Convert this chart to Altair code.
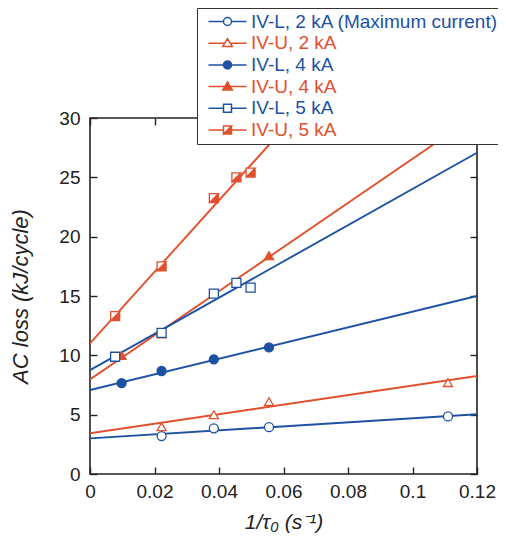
import altair as alt
import pandas as pd

BLUE = "#1d52a3"
RED = "#e0502d"

SERIES = ["IV-L, 2 kA (Maximum current)", "IV-U, 2 kA", "IV-L, 4 kA",
          "IV-U, 4 kA", "IV-L, 5 kA", "IV-U, 5 kA"]
STROKES = [BLUE, RED, BLUE, RED, BLUE, RED]
FILLS = ["#ffffff", "#ffffff", BLUE, RED, "#ffffff", RED]

HALF_SQ = "M-1,-1L1,-1L1,1L-1,1ZM-1,-1L-1,1L1,-1Z"
MARKERS = ["circle", "triangle-up", "circle", "triangle-up", "square", HALF_SQ]

LINE = "M-4.75,0L-1,0M1,0L4.75,0"
LINE_T = "M-4.75,0L-0.69,0M0.69,0L4.75,0"
CIRC = "M1,0A1,1,0,1,1,-1,0A1,1,0,1,1,1,0Z"
TRI = "M0,-1.15L1.2,0.85L-1.2,0.85Z"
SQ = "M-1,-1L1,-1L1,1L-1,1Z"
HALF = "M-1,-1L-1,1L1,-1Z"
LEGEND_SYMBOLS = [LINE + CIRC, LINE_T + TRI, LINE + CIRC, LINE_T + TRI,
                  LINE + SQ, LINE + SQ + HALF]

# measured points (1/tau0, AC loss)
PX = [
    [0.0222, 0.0384, 0.0555, 0.111],
    [0.0222, 0.0384, 0.0555, 0.111],
    [0.0098, 0.0222, 0.0384, 0.0555],
    [0.0098, 0.0222, 0.0555],
    [0.0078, 0.0222, 0.0384, 0.0454, 0.0498],
    [0.0078, 0.0222, 0.0384, 0.0454, 0.0498],
]
PY = [
    [3.2, 3.85, 3.95, 4.85],
    [3.98, 5.0, 6.1, 7.7],
    [7.65, 8.68, 9.66, 10.67],
    [10.0, 11.8, 18.4],
    [9.88, 11.9, 15.2, 16.1, 15.7],
    [13.3, 17.5, 23.25, 25.0, 25.4],
]
# fitted lines (start / end)
LX0 = [0, 0, 0, 0, 0, 0]
LY0 = [3.0, 3.43, 7.08, 7.97, 8.76, 11.0]
LX1 = [0.12, 0.12, 0.12, 0.1185, 0.12, 0.063]
LY1 = [5.03, 8.26, 15.0, 30.0, 27.07, 30.0]

X_TICKS = [0, 0.02, 0.04, 0.06, 0.08, 0.1, 0.12]
Y_TICKS = [0, 5, 10, 15, 20, 25, 30]

rows = []
for s, xs, ys in zip(SERIES, PX, PY):
    for x, y in zip(xs, ys):
        rows.append({"series": s, "x": x, "y": y})
pts = pd.DataFrame(rows)

lrows = []
for s, x0, y0, x1, y1 in zip(SERIES, LX0, LY0, LX1, LY1):
    lrows.append({"series": s, "x": x0, "y": y0})
    lrows.append({"series": s, "x": x1, "y": y1})
lines = pd.DataFrame(lrows)

W, H = 387, 356
FONT = "Liberation Sans"
INK = "#222222"

xs = alt.Scale(domain=[0, 0.12], nice=False, zero=False)
ys = alt.Scale(domain=[0, 30], nice=False, zero=False)

common = dict(grid=False, domain=False, labelFlush=False, labelOverlap=False,
              labelFont=FONT, labelColor=INK, tickColor=INK, tickWidth=1.4)

ax_x_main = alt.Axis(orient="bottom", values=X_TICKS, format=".2~f", ticks=False,
                     labelFontSize=19, labelPadding=8,
                     title="1/τ₀ (s⁻¹)", titleFont=FONT, titleFontSize=21,
                     titleFontStyle="italic", titleFontWeight="normal",
                     titleColor=INK, titlePadding=10, **common)
ax_y_main = alt.Axis(orient="left", values=Y_TICKS, ticks=False,
                     labelFontSize=19, labelPadding=10,
                     title="AC loss (kJ/cycle)", titleFont=FONT, titleFontSize=22,
                     titleFontStyle="italic", titleFontWeight="normal",
                     titleColor=INK, titlePadding=26, **common)
ax_x_in_bottom = alt.Axis(orient="top", offset=-H, values=X_TICKS, labels=False,
                          ticks=True, tickSize=7, title=None, **common)
ax_y_in_left = alt.Axis(orient="right", offset=-W, values=Y_TICKS, labels=False,
                        ticks=True, tickSize=7, title=None, **common)
ax_x_in_top = alt.Axis(orient="bottom", offset=-H, values=X_TICKS, labels=False,
                       ticks=True, tickSize=7, title=None, **common)
ax_y_in_right = alt.Axis(orient="left", offset=-W, values=Y_TICKS, labels=False,
                         ticks=True, tickSize=7, title=None, **common)

line_layer = alt.Chart(lines).mark_line(clip=True, strokeWidth=1.9).encode(
    x=alt.X("x:Q", scale=xs, axis=ax_x_main),
    y=alt.Y("y:Q", scale=ys, axis=ax_y_main),
    stroke=alt.Stroke("series:N", scale=alt.Scale(domain=SERIES, range=STROKES), legend=None),
)

# white backing for the half-filled squares
backing_layer = alt.Chart(pts).transform_filter(
    alt.datum.series == SERIES[5]
).mark_point(shape="square", size=81, filled=True, color="white", opacity=1).encode(
    x=alt.X("x:Q", scale=xs, axis=None),
    y=alt.Y("y:Q", scale=ys, axis=None),
)

point_layer = alt.Chart(pts).mark_point(size=81, strokeWidth=1.3, opacity=1).encode(
    x=alt.X("x:Q", scale=xs, axis=ax_x_in_bottom),
    y=alt.Y("y:Q", scale=ys, axis=ax_y_in_left),
    shape=alt.Shape("series:N", scale=alt.Scale(domain=SERIES, range=MARKERS), legend=None),
    fill=alt.Fill("series:N", scale=alt.Scale(domain=SERIES, range=FILLS), legend=None),
    stroke=alt.Stroke("series:N", scale=alt.Scale(domain=SERIES, range=STROKES), legend=None),
    order=alt.Order("series_idx:Q"),
).transform_calculate(series_idx="indexof(%s, datum.series)" % str(SERIES))

leg = alt.Legend(
    title=None, orient="none", legendX=107, legendY=-110, padding=4,
    fillColor="white", strokeColor="#333333",
    labelFont=FONT, labelFontSize=19, labelLimit=0,
    labelColor={"expr": "indexof(datum.value, 'IV-L') >= 0 ? '%s' : '%s'" % (BLUE, RED)},
    symbolSize=64, symbolStrokeWidth=1.5, symbolOffset=17, labelOffset=14,
    rowPadding=1.7, symbolOpacity=1,
)

legend_layer = alt.Chart(pts).transform_filter("false").mark_point(
    size=64, strokeWidth=1.5, opacity=1).encode(
    x=alt.X("x:Q", scale=xs, axis=ax_x_in_top),
    y=alt.Y("y:Q", scale=ys, axis=ax_y_in_right),
    shape=alt.Shape("series:N", scale=alt.Scale(domain=SERIES, range=LEGEND_SYMBOLS), legend=leg),
    fill=alt.Fill("series:N", scale=alt.Scale(domain=SERIES, range=FILLS), legend=leg),
    stroke=alt.Stroke("series:N", scale=alt.Scale(domain=SERIES, range=STROKES), legend=leg),
)

chart = alt.layer(line_layer, backing_layer, point_layer, legend_layer).resolve_scale(
    shape="independent", fill="independent", stroke="independent"
).resolve_axis(x="independent", y="independent").properties(
    width=W, height=H,
    padding={"left": 82, "top": 110, "right": 21, "bottom": 60},
    autosize=alt.AutoSizeParams(type="none"),
).configure_view(stroke=INK, strokeWidth=1.6)

chart.save("out.html", embed_options={"renderer": "svg", "actions": False})
